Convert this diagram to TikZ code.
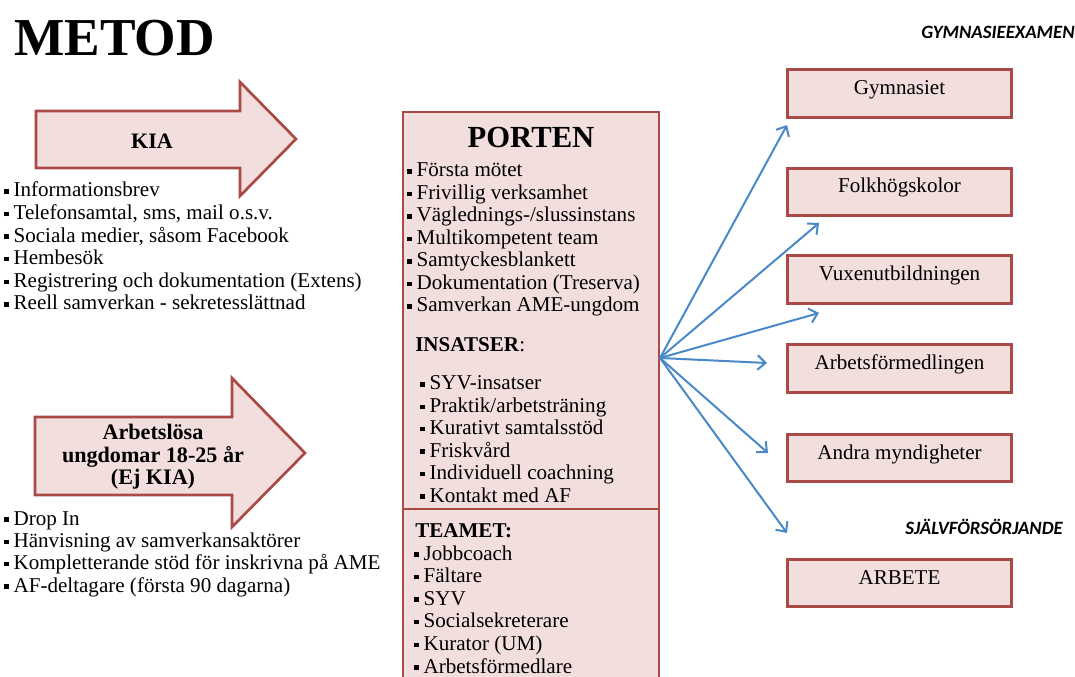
\documentclass[tikz,border=0pt]{standalone}
\usepackage{fontspec}
\setmainfont{Liberation Serif}
\newfontfamily\calibfont{Carlito}
\usetikzlibrary{arrows.meta}
\definecolor{port-red}{RGB}{170,74,70}
\definecolor{port-pink}{RGB}{242,222,221}
\definecolor{port-blue}{RGB}{74,137,200}
\newcommand{\bul}{\rule[2.6pt]{3.2pt}{3.2pt}\hspace{3.8pt}}

\begin{document}
\begin{tikzpicture}[x=0.75pt, y=-0.75pt,
  txt/.style={font=\fontsize{15.8}{17}\selectfont, inner sep=0pt},
  item/.style={txt, anchor=base west},
  bigarrow/.style={draw=port-red, fill=port-pink, line width=2pt},
  pbox/.style={draw=port-red, fill=port-pink, line width=2.2pt},
  dest/.style={pbox, txt, minimum width=168pt, minimum height=35.5pt,
    text height=10pt, text depth=8.5pt},
  flow/.style={port-blue, line width=1.5pt,
    -{Straight Barb[length=6pt,width=11pt]}},
  tag/.style={font=\calibfont\bfseries\itshape\fontsize{14.1}{16}\selectfont,
    inner sep=0pt, anchor=base west}]
  \useasboundingbox (0,0) rectangle (1075,677);

  % Rubrik
  \node[inner sep=0pt, anchor=base west, font=\bfseries\fontsize{40}{44}\selectfont]
    (metod) at (14,56) {METOD};
  \node[tag] (gymex) at (921,39) {GYMNASIEEXAMEN};
  \node[tag] (sjalv) at (905,534) {SJÄLVFÖRSÖRJANDE};

  % Pil KIA
  \draw[bigarrow] (36,111) -- (240,111) -- (240,82) -- (296,139)
    -- (240,196) -- (240,168) -- (36,168) -- cycle;
  \node[txt, font=\bfseries\fontsize{16.5}{17}\selectfont] (kia) at (152,141) {KIA};
  \foreach \t [count=\i from 0] in {
    Informationsbrev,
    {Telefonsamtal, sms, mail o.s.v.},
    {Sociala medier, såsom Facebook},
    Hembesök,
    Registrering och dokumentation (Extens),
    Reell samverkan - sekretesslättnad}{
    \node[item] (kia\i) at (4,197+22.6*\i) {\bul\t};
  }

  % Pil arbetslösa
  \draw[bigarrow] (35,417) -- (232,417) -- (232,378) -- (305,453)
    -- (232,527) -- (232,495) -- (35,495) -- cycle;
  \node[txt, align=center, font=\bfseries\fontsize{16.6}{17}\selectfont]
    (ungd) at (153,457) {Arbetslösa\\ungdomar 18-25 år\\(Ej KIA)};
  \foreach \t [count=\i from 0] in {
    Drop In,
    Hänvisning av samverkansaktörer,
    Kompletterande stöd för inskrivna på AME,
    AF-deltagare (första 90 dagarna)}{
    \node[item] (ung\i) at (4,525+22.4*\i) {\bul\t};
  }

  % Porten
  \path[pbox] (403,112) rectangle (659,509);
  \fill[port-pink] (403,509) rectangle (659,677);
  \draw[port-red, line width=2.2pt] (403,677) -- (403,509) -- (659,509) -- (659,677);
  \node[inner sep=0pt, anchor=base, font=\bfseries\fontsize{23}{26}\selectfont]
    (porten) at (531,148) {PORTEN};
  \foreach \t [count=\i from 0] in {
    Första mötet,
    Frivillig verksamhet,
    Väglednings-/slussinstans,
    Multikompetent team,
    Samtyckesblankett,
    Dokumentation (Treserva),
    Samverkan AME-ungdom}{
    \node[item] (port\i) at (407,177+22.5*\i) {\bul\t};
  }
  \node[item] (insatser) at (415,352) {\textbf{INSATSER}:};
  \foreach \t [count=\i from 0] in {
    SYV-insatser,
    Praktik/arbetsträning,
    Kurativt samtalsstöd,
    Friskvård,
    Individuell coachning,
    Kontakt med AF}{
    \node[item] (ins\i) at (420,390+22.4*\i) {\bul\t};
  }
  \node[item] (teamet) at (415,537) {\textbf{TEAMET:}};
  \foreach \t [count=\i from 0] in {
    Jobbcoach,
    Fältare,
    SYV,
    Socialsekreterare,
    Kurator (UM),
    Arbetsförmedlare}{
    \node[item] (team\i) at (414,560+22.6*\i) {\bul\t};
  }

  % Vidare
  \node[dest] (gym) at (899.5,93.5) {Gymnasiet};
  \node[dest] (folk) at (899.5,192) {Folkhögskolor};
  \node[dest] (vux) at (899.5,279.5) {Vuxenutbildningen};
  \node[dest] (arbf) at (899.5,368.5) {Arbetsförmedlingen};
  \node[dest] (andra) at (899.5,458) {Andra myndigheter};
  \node[dest] (arbete) at (899.5,583) {ARBETE};

  % Pilar
  \coordinate (hub) at (660,358);
  \coordinate (e1) at (787,125);
  \coordinate (e2) at (819,223);
  \coordinate (e3) at (819,313);
  \coordinate (e4) at (767,363);
  \coordinate (e5) at (768,453);
  \coordinate (e6) at (787,533);
  \foreach \e in {e1,e2,e3,e4,e5,e6}
    \draw[flow] (hub) -- (\e);
\end{tikzpicture}
\end{document}
